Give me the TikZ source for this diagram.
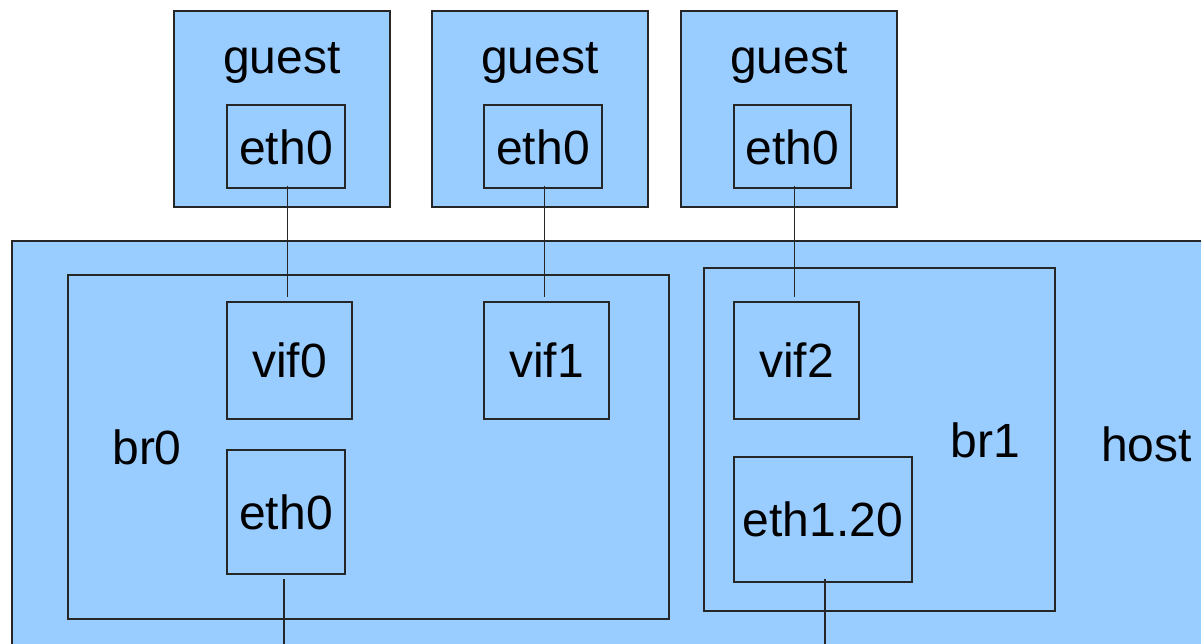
\documentclass[tikz,border=0pt]{standalone}
\usepackage{fontspec}
\setmainfont{Liberation Sans}
\usetikzlibrary{fit}
\definecolor{boxblue}{HTML}{99CCFF}
\begin{document}
\begin{tikzpicture}[x=0.75pt,y=-0.75pt,
  box/.style={draw=black!85,fill=boxblue,line width=1pt,inner sep=0pt},
  frame/.style={draw=black!85,line width=1pt,inner sep=0pt},
  lbl/.style={anchor=base,inner sep=0pt,font=\fontsize{36}{43}\selectfont},
  wire/.style={draw=black!85,line width=0.8pt}]
\useasboundingbox (0,0) rectangle (1201,643);
\clip (0,0) rectangle (1201,643);
% guests
\node[box,fit={(174,11)(390,207)}] (g1) {};
\node[box,fit={(432,11)(648,207)}] (g2) {};
\node[box,fit={(681,11)(897,207)}] (g3) {};
\node[lbl] (g1t) at (282,73) {guest};
\node[lbl] (g2t) at (540,73) {guest};
\node[lbl] (g3t) at (789,73) {guest};
\node[frame,fit={(227,105)(345,188)}] (ge1) {};
\node[frame,fit={(484,105)(602,188)}] (ge2) {};
\node[frame,fit={(734,105)(851,188)}] (ge3) {};
\node[lbl] (ge1t) at (286,164) {eth0};
\node[lbl] (ge2t) at (543,164) {eth0};
\node[lbl] (ge3t) at (792.5,164) {eth0};
% host
\node[box,fit={(12,241)(1240,690)}] (host) {};
\node[lbl] (hostt) at (1146.5,461) {host};
% bridges
\node[frame,fit={(68,275)(669,619)}] (br0) {};
\node[frame,fit={(704,268)(1055,611)}] (br1) {};
\node[lbl] (br0t) at (147,464) {br0};
\node[lbl] (br1t) at (985,457) {br1};
% interfaces
\node[frame,fit={(227,302)(352,419)}] (v0) {};
\node[frame,fit={(484,302)(609,419)}] (v1) {};
\node[frame,fit={(734,302)(859,419)}] (v2) {};
\node[frame,fit={(227,450)(345,574)}] (he0) {};
\node[frame,fit={(734,457)(912,582)}] (he1) {};
\node[lbl] (v0t) at (289.5,377) {vif0};
\node[lbl] (v1t) at (546.5,377) {vif1};
\node[lbl] (v2t) at (796.5,377) {vif2};
\node[lbl] (he0t) at (286,529) {eth0};
\node[lbl] (he1t) at (823,536) {eth1.20};
% connectors
\coordinate (out0) at (284,660);
\coordinate (out1) at (825,660);
\draw[wire] ([xshift=-1.2pt,yshift=2.2pt]ge1.south -| v0.north) -- ([xshift=-1.2pt,yshift=3pt]v0.north);
\draw[wire] ([xshift=-1.2pt,yshift=2.2pt]ge2.south -| v1.north) -- ([xshift=-1.2pt,yshift=3pt]v1.north);
\draw[wire] ([xshift=-1.2pt,yshift=2.2pt]ge3.south -| v2.north) -- ([xshift=-1.2pt,yshift=3pt]v2.north);
\draw[wire] ([yshift=-3.5pt]he0.south -| out0) -- (out0);
\draw[wire] ([yshift=3pt]he1.south -| out1) -- (out1);
\end{tikzpicture}
\end{document}
